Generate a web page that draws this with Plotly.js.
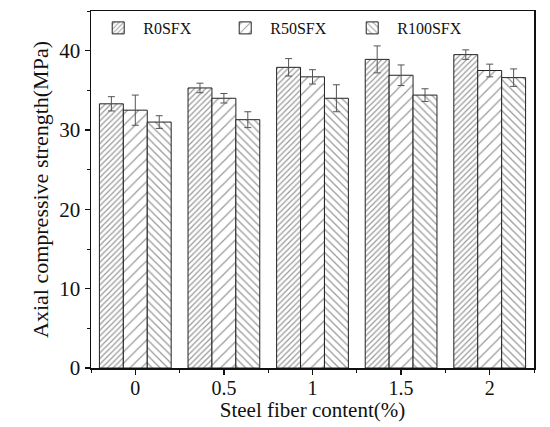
<!DOCTYPE html>
<html>
<head>
<meta charset="utf-8">
<script src="https://cdn.plot.ly/plotly-3.0.1.min.js"></script>
<style>html,body{margin:0;padding:0;background:#fff;}#chart{width:550px;height:427px;}</style>
</head>
<body>
<div id="chart"></div>
<script>
const categories = ["0", "0.5", "1", "1.5", "2"];
const seriesNames = ["R0SFX", "R50SFX", "R100SFX"];
const r0Values = [33.3, 35.3, 37.9, 38.9, 39.5];
const r0Errors = [0.9, 0.6, 1.1, 1.7, 0.6];
const r50Values = [32.5, 34.0, 36.7, 36.9, 37.5];
const r50Errors = [1.9, 0.6, 0.9, 1.3, 0.8];
const r100Values = [31.0, 31.3, 34.0, 34.4, 36.6];
const r100Errors = [0.8, 1.0, 1.7, 0.8, 1.1];
const yTickVals = [0, 10, 20, 30, 40];

const xPos = categories.map((c, i) => i);
const patterns = [
  {shape: "/", size: 4, solidity: 0.3},
  {shape: "/", size: 8, solidity: 0.15},
  {shape: "\\", size: 5.5, solidity: 0.22}
];
const values = [r0Values, r50Values, r100Values];
const errors = [r0Errors, r50Errors, r100Errors];

const traces = seriesNames.map((name, k) => ({
  type: "bar",
  name: name,
  x: xPos,
  y: values[k],
  error_y: {type: "data", array: errors[k], visible: true, color: "#555", thickness: 1, width: 3.5},
  marker: {
    color: "#fff",
    line: {color: "#222", width: 1},
    pattern: {shape: patterns[k].shape, size: patterns[k].size, solidity: patterns[k].solidity, fgcolor: "#333", bgcolor: "#fff", fillmode: "overlay"}
  }
}));

const font = {family: "Liberation Serif, Times New Roman, serif", color: "#111"};

const layout = {
  width: 550, height: 427,
  margin: {l: 91, r: 16, t: 11, b: 59},
  paper_bgcolor: "#fff", plot_bgcolor: "#fff",
  barmode: "group", bargap: 0.19, bargroupgap: 0,
  font: Object.assign({size: 18}, font),
  showlegend: true,
  legend: {
    orientation: "h", x: 0.005, y: 1.0, xanchor: "left", yanchor: "top",
    bgcolor: "rgba(0,0,0,0)", borderwidth: 0,
    font: Object.assign({size: 16}, font),
    itemwidth: 40, entrywidth: 72, entrywidthmode: "pixels",
    traceorder: "normal"
  },
  xaxis: {
    range: [-0.5, 4.5],
    tickmode: "array", tickvals: xPos, ticktext: categories,
    ticks: "outside", ticklen: 5, tickwidth: 1.5, tickcolor: "#111",
    ticklabelstandoff: -4,
    minor: {tickmode: "linear", tick0: 0.5, dtick: 1, ticks: "outside", ticklen: 3, tickwidth: 1, tickcolor: "#111"},
    showline: true, linecolor: "#111", linewidth: 1.5, mirror: true,
    showgrid: false, zeroline: false,
    tickfont: Object.assign({size: 20}, font),
    title: {text: "Steel fiber content(%)", font: Object.assign({size: 21}, font), standoff: 2}
  },
  yaxis: {
    range: [0, 45],
    tickmode: "array", tickvals: yTickVals,
    ticks: "outside", ticklen: 5, tickwidth: 1.5, tickcolor: "#111",
    minor: {tickmode: "linear", tick0: 5, dtick: 10, ticks: "outside", ticklen: 3, tickwidth: 1, tickcolor: "#111"},
    showline: true, linecolor: "#111", linewidth: 1.5, mirror: true,
    showgrid: false, zeroline: false,
    tickfont: Object.assign({size: 21}, font),
    title: {text: "Axial compressive strength(MPa)", font: Object.assign({size: 22}, font), standoff: 4}
  }
};

Plotly.newPlot("chart", traces, layout, {displayModeBar: false, staticPlot: true});
</script>
</body>
</html>
